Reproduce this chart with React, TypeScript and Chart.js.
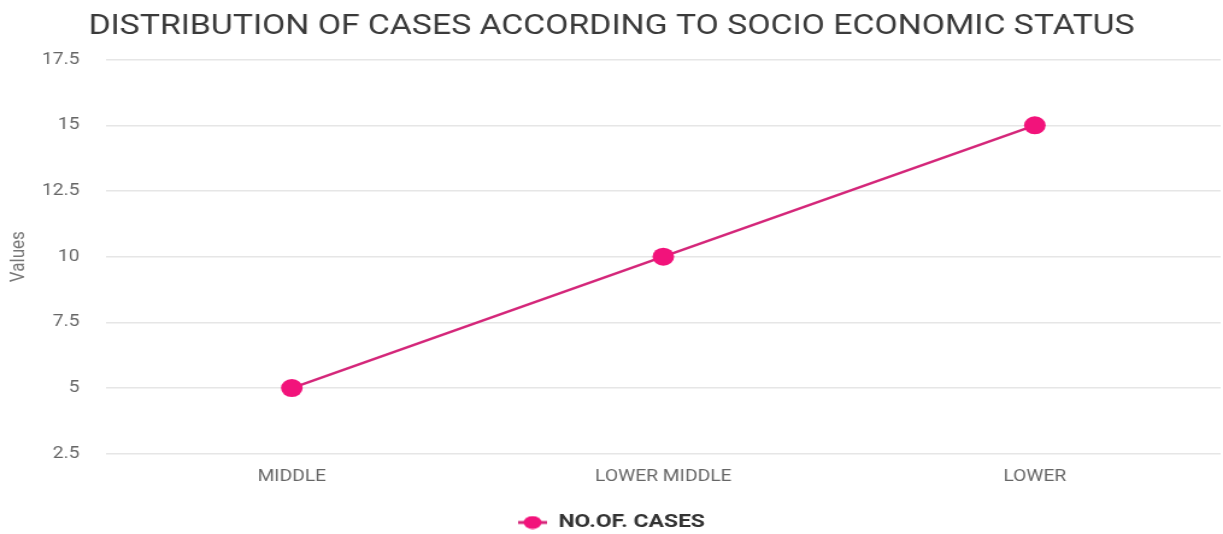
import React, { useEffect, useRef } from "react";
import { Chart, registerables } from "chart.js";

Chart.register(...registerables);

const TITLE = "DISTRIBUTION OF CASES ACCORDING TO SOCIO ECONOMIC STATUS";
const categories = ["MIDDLE", "LOWER MIDDLE", "LOWER"];
const seriesName = "NO.OF. CASES";
const seriesValues = [5, 10, 15];
const yTicks = [2.5, 5, 7.5, 10, 12.5, 15, 17.5];

const LINE_COLOR = "#d4277a";
const POINT_COLOR = "#f2137b";
const FONT = "Roboto, 'Noto Sans', sans-serif";

// The reference picture is stretched horizontally; draw on a narrower canvas and scale it up.
const CANVAS_W = 1015;
const CSS_W = 1223;
const H = 534;

function makeLegendMarker(): HTMLCanvasElement {
  const c = document.createElement("canvas");
  c.width = 24;
  c.height = 14;
  const ctx = c.getContext("2d")!;
  ctx.strokeStyle = LINE_COLOR;
  ctx.lineWidth = 3;
  ctx.beginPath();
  ctx.moveTo(0, 7);
  ctx.lineTo(24, 7);
  ctx.stroke();
  ctx.fillStyle = POINT_COLOR;
  ctx.beginPath();
  ctx.ellipse(12, 7, 7.5, 6.5, 0, 0, Math.PI * 2);
  ctx.fill();
  return c;
}

export default function App() {
  const ref = useRef<HTMLCanvasElement | null>(null);

  useEffect(() => {
    if (!ref.current) return;
    const marker = makeLegendMarker();
    const chart = new Chart(ref.current, {
      type: "line",
      data: {
        labels: categories,
        datasets: [
          {
            label: seriesName,
            data: seriesValues,
            borderColor: LINE_COLOR,
            backgroundColor: POINT_COLOR,
            borderWidth: 2.5,
            pointRadius: 9,
            pointBackgroundColor: POINT_COLOR,
            pointBorderColor: POINT_COLOR,
            pointBorderWidth: 0,
            tension: 0,
            clip: false,
          },
        ],
      },
      options: {
        animation: false,
        responsive: false,
        maintainAspectRatio: false,
        devicePixelRatio: 1,
        layout: { autoPadding: false, padding: { left: 2, right: 2, top: 0, bottom: -8 } },
        plugins: {
          title: {
            display: true,
            text: TITLE,
            color: "#3a3a3a",
            font: { family: FONT, size: 28, weight: "normal" },
            padding: { top: 10, bottom: 16 },
          },
          legend: {
            display: true,
            position: "bottom",
            labels: {
              usePointStyle: true,
              pointStyleWidth: 24,
              color: "#333",
              font: { family: FONT, size: 19, weight: "bold" },
              padding: 0,
              generateLabels: (ch: any) =>
                ch.data.datasets.map((ds: any, i: number) => ({
                  text: ds.label,
                  fillStyle: POINT_COLOR,
                  strokeStyle: POINT_COLOR,
                  pointStyle: marker,
                  datasetIndex: i,
                  hidden: false,
                  fontColor: "#333",
                })),
            },
          },
          tooltip: { enabled: false },
        },
        scales: {
          x: {
            offset: true,
            grid: { display: false, drawTicks: false },
            border: { display: false },
            ticks: {
              color: "#666",
              font: { family: FONT, size: 16 },
              padding: 14,
            },
            afterFit: (axis: any) => {
              axis.height += 12;
            },
          },
          y: {
            min: 2.5,
            max: 17.5,
            afterBuildTicks: (axis: any) => {
              axis.ticks = yTicks.map((v) => ({ value: v }));
            },
            afterFit: (axis: any) => {
              axis.width = 86;
            },
            grid: { color: "#e6e6e6", drawTicks: false, lineWidth: 1.5 },
            border: { display: false },
            ticks: {
              color: "#666",
              font: { family: FONT, size: 16 },
              padding: 22,
            },
            title: {
              display: true,
              text: "Values",
              color: "#777",
              font: { family: FONT, size: 17 },
              padding: { top: 4, bottom: 8 },
            },
          },
        },
      },
    });
    return () => chart.destroy();
  }, []);

  return (
    <div style={{ position: "fixed", left: 0, top: 0, width: CSS_W, height: H, background: "#fff" }}>
      <canvas ref={ref} width={CANVAS_W} height={H} style={{ width: CSS_W, height: H, display: "block" }} />
    </div>
  );
}
